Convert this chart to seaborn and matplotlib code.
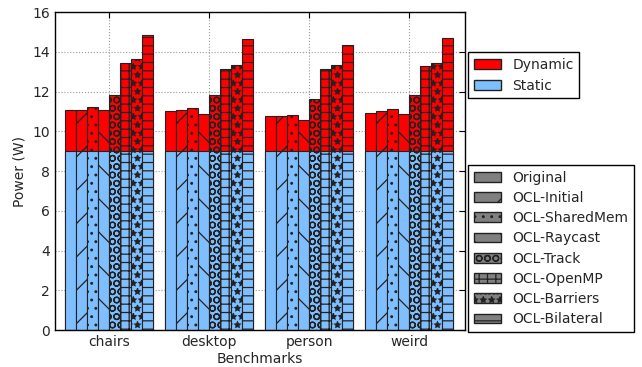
import matplotlib
matplotlib.use("Agg")
import matplotlib.pyplot as plt
from matplotlib.patches import Patch
import pandas as pd
import seaborn as sns

# Benchmarks and implementation variants
benchmarks = ["chairs", "desktop", "person", "weird"]
variants = ["Original", "OCL-Initial", "OCL-SharedMem", "OCL-Raycast",
            "OCL-Track", "OCL-OpenMP", "OCL-Barriers", "OCL-Bilateral"]
hatches = ["", "/", "..", "\\", "OO", "++", "**", "--"]

# Static power (W), same for every variant
static_chairs = [9.0, 9.0, 9.0, 9.0, 9.0, 9.0, 9.0, 9.0]
static_desktop = [9.0, 9.0, 9.0, 9.0, 9.0, 9.0, 9.0, 9.0]
static_person = [9.0, 9.0, 9.0, 9.0, 9.0, 9.0, 9.0, 9.0]
static_weird = [9.0, 9.0, 9.0, 9.0, 9.0, 9.0, 9.0, 9.0]

# Dynamic power (W)
dyn_chairs = [2.07, 2.07, 2.20, 2.07, 2.83, 4.42, 4.62, 5.83]
dyn_desktop = [2.00, 2.07, 2.15, 1.85, 2.84, 4.13, 4.33, 5.62]
dyn_person = [1.75, 1.75, 1.80, 1.57, 2.60, 4.13, 4.32, 5.32]
dyn_weird = [1.92, 2.00, 2.14, 1.85, 2.81, 4.30, 4.42, 5.71]

static_all = [static_chairs, static_desktop, static_person, static_weird]
dyn_all = [dyn_chairs, dyn_desktop, dyn_person, dyn_weird]

rows = []
for b, st, dy in zip(benchmarks, static_all, dyn_all):
    for v, s, d in zip(variants, st, dy):
        rows.append({"bench": b, "variant": v, "static": s, "total": s + d})
df = pd.DataFrame(rows)

sns.set_style("whitegrid")
plt.rcParams["font.family"] = ["DejaVu Sans"]
plt.rcParams["font.size"] = 10
plt.rcParams["hatch.linewidth"] = 0.9

red = "#ff0000"
blue = "#80bfff"

fig = plt.figure(figsize=(6.42, 3.67), dpi=100)
ax = fig.add_axes([0.0857, 0.1008, 0.6386, 0.8665])

sns.barplot(data=df, x="bench", y="total", hue="variant", order=benchmarks,
            hue_order=variants, palette=[red] * 8, width=0.88, gap=0,
            edgecolor="#222222", linewidth=0.8, legend=False, errorbar=None,
            saturation=1, ax=ax)
sns.barplot(data=df, x="bench", y="static", hue="variant", order=benchmarks,
            hue_order=variants, palette=[blue] * 8, width=0.88, gap=0,
            edgecolor="#222222", linewidth=0.8, legend=False, errorbar=None,
            saturation=1, ax=ax)

for i, cont in enumerate(ax.containers):
    for bar in cont:
        bar.set_hatch(hatches[i % 8])

ax.set_xlim(-0.54, 3.56)
ax.set_ylim(0, 16)
ax.set_yticks(range(0, 17, 2))
ax.set_xlabel("Benchmarks", fontsize=10, labelpad=2)
ax.set_ylabel("Power (W)", fontsize=10)
ax.set_axisbelow(True)
ax.grid(True, color="#999999", linestyle=":", linewidth=0.8)
ax.tick_params(direction="in", length=4, top=True, right=True,
               labelsize=10, color="black")
for sp in ax.spines.values():
    sp.set_color("black")
    sp.set_linewidth(1.0)

# Power-type legend
leg1 = fig.legend(handles=[Patch(facecolor=red, edgecolor="#222222", label="Dynamic"),
                           Patch(facecolor=blue, edgecolor="#222222", label="Static")],
                  loc="upper left", bbox_to_anchor=(0.729, 0.858), fancybox=False,
                  framealpha=1, edgecolor="black", borderaxespad=0)
# Variant legend
vh = [Patch(facecolor="#808080", edgecolor="#222222", hatch=h, label=v)
      for v, h in zip(variants, hatches)]
leg2 = fig.legend(handles=vh, loc="upper left", bbox_to_anchor=(0.729, 0.550),
                  fancybox=False, framealpha=1, edgecolor="black", borderaxespad=0,
                  labelspacing=0.45)

plt.savefig("out.png", dpi=100)
